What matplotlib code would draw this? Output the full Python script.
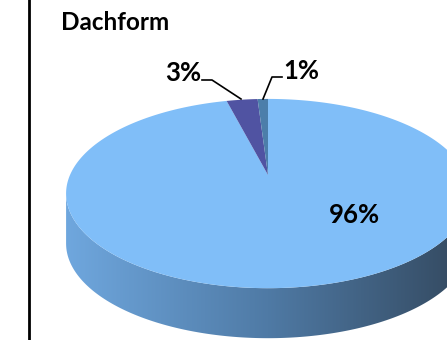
import numpy as np
import matplotlib
matplotlib.use('Agg')
import matplotlib.pyplot as plt
from matplotlib.patches import Polygon
from matplotlib.colors import LinearSegmentedColormap

# Dachform shares
labels = ['96%', '3%', '1%']
values = [96, 3, 1]
colors = ['#80BEF8', '#5053A2', '#4C7EAA']

W, H = 447, 340
fig = plt.figure(figsize=(W / 100, H / 100), dpi=100)
ax = fig.add_axes([0, 0, 1, 1])
ax.set_xlim(0, W)
ax.set_ylim(H, 0)
ax.axis('off')

# tilted disc with a little perspective
cx, cy = 268, 175
a, b, k = 198, 91, 0.196
depth = 50


def proj(theta, dy=0.0):
    u, v = np.cos(theta), np.sin(theta)
    s = 1.0 / (1.0 - k * v)
    return cx + a * u * s, cy + b * v * s + dy


# side wall of the disc (front half only)
t0 = np.arcsin(k)
tt = np.linspace(t0, np.pi - t0, 200)
xt, yt = proj(tt)
xb, yb = proj(tt[::-1], depth)
side = Polygon(np.column_stack([np.r_[xt, xb], np.r_[yt, yb]]),
               closed=True, facecolor='none', edgecolor='none')
ax.add_patch(side)
grad = LinearSegmentedColormap.from_list('side', ['#6FA7DE', '#4F7AA5', '#33485E'])
img = ax.imshow(np.linspace(0, 1, 256)[None, :], cmap=grad, aspect='auto',
                extent=(xt.min(), xt.max(), yb.max() + 2, yt.min() - 2), zorder=1)
img.set_clip_path(side)
ax.set_xlim(0, W)
ax.set_ylim(H, 0)

# top face wedges, clockwise from 12 o'clock
cum = np.cumsum([0] + values) / sum(values)
for i, c in enumerate(colors):
    th = np.linspace(-np.pi / 2 + 2 * np.pi * cum[i], -np.pi / 2 + 2 * np.pi * cum[i + 1], 300)
    x, y = proj(th)
    pts = np.column_stack([np.r_[cx, x], np.r_[cy, y]])
    ax.add_patch(Polygon(pts, closed=True, facecolor=c, edgecolor='none', zorder=2))

txt = dict(fontweight='bold', family=['Lato', 'DejaVu Sans'], color='black')
ax.text(61, 23, 'Dachform', ha='left', va='center', fontsize=17.5, **txt)
ax.text(329, 215, labels[0], ha='left', va='center', fontsize=18.5, **txt)
ax.text(201, 73, labels[1], ha='right', va='center', fontsize=18.5, **txt)
ax.text(283, 71, labels[2], ha='left', va='center', fontsize=18.5, **txt)

# leader lines
ax.plot([202, 212, 241], [80, 80, 99], color='black', lw=1.2, zorder=3)
ax.plot([282, 272, 263], [77, 77, 99], color='black', lw=1.2, zorder=3)

# left frame line
ax.plot([29, 29], [0, H], color='black', lw=2, zorder=3)

fig.savefig('out.png', dpi=100)
